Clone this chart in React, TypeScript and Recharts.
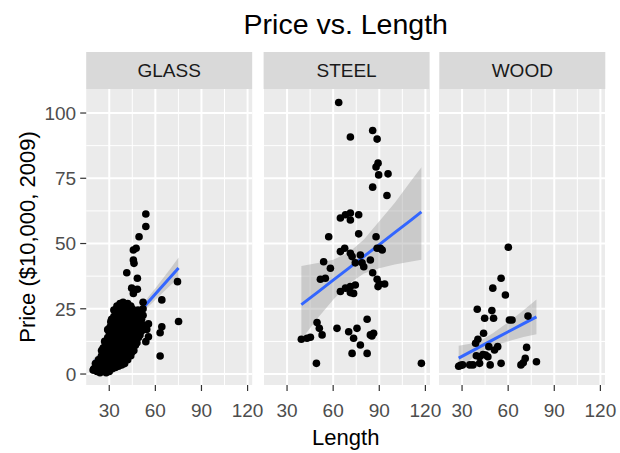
import React from 'react';
import { ComposedChart, Scatter, Line, Area, XAxis, YAxis, CartesianGrid } from 'recharts';

const chartTitle = 'Price vs. Length';
const xTitle = 'Length';
const yTitle = 'Price ($10,000, 2009)';
const categories = ['GLASS', 'STEEL', 'WOOD'];
const xTicks = [30, 60, 90, 120];
const yTicks = [0, 25, 50, 75, 100];
const xMinor = [45, 75, 105];
const yMinor = [12.5, 37.5, 62.5, 87.5];
const X_DOMAIN: [number, number] = [15, 123];
const Y_DOMAIN: [number, number] = [-4.2, 109.2];

const glassPoints: [number, number][] = [
  [19.5, 1.5], [20, 2], [21, 4], [21.5, 2.5],
  [22, 1], [22, 3.5], [23, 5.5], [23, 1.5], [23.5, 3.5],
  [24, 0.5], [24, 3], [24.5, 6], [25, 9], [25, 2], [25.5, 4.5], [25, 7],
  [26, 1.5], [26, 4], [26.5, 7], [26, 10], [27, 12.5], [27, 2.5], [27, 5], [27.5, 8.5], [27.5, 11],
  [28, 0.5], [28, 3], [28.5, 5.5], [28, 8], [28.5, 11], [29, 14], [29, 17],
  [29, 2], [29.5, 4.5], [29, 7], [29.5, 10], [29.5, 12.5], [30, 16],
  [30, 1], [30, 3.5], [30.5, 6], [30, 9], [30.5, 12], [31, 15], [30.5, 18], [31, 20],
  [31, 2.5], [31.5, 5], [31, 8], [31.5, 11], [31.5, 13.5], [32, 17], [31.5, 21],
  [32, 2], [32.5, 4.5], [32, 7], [32.5, 10], [32, 13], [33, 16], [32.5, 19], [33, 22], [33, 24.5],
  [33, 3], [33.5, 6], [33, 9], [33.5, 12], [33.5, 14.5], [34, 18.5], [34, 21], [34, 24],
  [34, 2.5], [34.5, 5], [34, 8], [34.5, 11], [35, 14], [34, 17], [35, 20], [34.5, 23], [35, 26],
  [35, 4], [35.5, 7], [35, 10], [35.5, 12.5], [35.5, 16], [36, 19.5], [35.5, 22], [36, 25.5],
  [36, 3], [36.5, 6], [36, 9], [37, 12], [36, 15], [36.5, 18], [37, 21], [36, 24], [37, 27],
  [37, 4.5], [37.5, 8], [37, 10.5], [37.5, 14], [37.5, 17], [38, 20], [37.5, 23], [38, 26],
  [38, 3.5], [38.5, 7], [38, 10], [39, 13], [38, 16], [38.5, 19], [39, 22], [38, 25], [39, 27.5],
  [39, 5], [39.5, 9], [39, 11.5], [39.5, 15], [40, 18.5], [39.5, 21], [40, 24.5], [39.5, 26.5],
  [40, 4], [40.5, 7.5], [40, 11], [41, 14], [40, 17], [40.5, 20], [41, 23], [40, 26],
  [41, 6], [41.5, 9.5], [41, 12.5], [41.5, 16], [41, 19], [42, 22.5], [41.5, 25],
  [42, 5.5], [42.5, 9], [42, 12], [43, 15], [42, 18], [42.5, 21], [43, 24], [42, 27],
  [43, 7], [43.5, 10.5], [43, 13], [43.5, 17], [43.5, 20], [44, 23.5], [44, 26],
  [44, 7], [44.5, 10], [44, 13], [45, 16], [44, 19], [44.5, 22], [45, 25],
  [45, 8.5], [45.5, 11.5], [45.5, 14.5], [45.5, 18], [45.5, 20.5], [46, 23],
  [46, 9], [46.5, 12], [46, 15], [47, 18], [46, 21], [46.5, 24],
  [47, 11], [47.5, 13.5], [47.5, 16.5], [48, 20], [47.5, 23],
  [48, 12], [48.5, 15], [48, 18], [49, 21],
  [49, 14], [49.5, 17], [50, 20],
  [50, 15], [50.5, 18], [51, 21], [52, 25], [52, 27.5], [51, 16.5], [51.5, 19], [52, 22.5],
  [53.8, 61.3], [53.8, 56.5], [49.4, 52.6], [45.7, 47.5], [47.5, 48.2], [45.7, 43.7], [46.1, 42.4],
  [41.4, 38.8], [48.3, 36.7], [74.4, 35.4], [44.6, 32.9], [48.3, 32.5], [45.7, 30.9], [64.2, 28.4],
  [75.1, 20.1], [55.5, 19.2], [54.4, 17.1], [55.5, 14.3], [53.8, 12.4], [64.2, 18.1], [63.1, 15.8],
  [63.1, 6.9], [48.7, 24.5], [50.8, 22.6],
];

const steelPoints: [number, number][] = [
  [63.6, 104], [71.2, 90.8], [85.7, 93.3], [88.6, 90], [89.2, 80.8], [87.9, 79.3], [89.6, 76.3],
  [95.7, 76.7], [85.7, 71.6], [95, 68.4],
  [64.7, 59.8], [68, 61], [71.2, 61.7], [71.2, 59], [76.6, 61],
  [57.1, 52.6], [76.6, 53.7], [87.9, 52.6],
  [64.7, 46.9], [67.5, 48.2], [71.2, 46.3], [72.3, 45], [90.7, 48.2], [88.6, 48.2], [91.9, 47.5],
  [77.7, 45.6], [79.9, 41.1], [84.2, 43.7],
  [53.8, 43], [58.2, 40.5], [51.7, 36.3], [54.9, 36.7], [74.4, 42.6], [78.8, 42.6],
  [85.7, 38.8], [88.6, 36.3], [90.1, 34.5], [93.5, 34.5], [89.2, 33.5],
  [64.7, 31.6], [68, 32.9], [71.2, 33.5], [74.4, 34.1], [71.2, 31.2], [73.3, 30.9],
  [49.5, 19.7], [51, 17.5], [52.8, 15], [39.3, 13.3], [43, 13.7], [45.2, 14.1],
  [62.5, 17.5],
  [70.1, 16.2], [75.5, 17.5], [73.3, 13.7], [77.7, 11.1], [72.3, 7.9], [82.1, 7.9], [82.1, 21],
  [84.2, 15], [86.3, 15.6], [85.2, 14.6],
  [49.1, 4.1], [117.4, 4.1],
];

const woodPoints: [number, number][] = [
  [60.1, 48.6], [55.4, 36.7], [50, 32.9], [58.2, 30.3], [39.9, 24.8], [49.4, 24.3], [44.7, 21.4],
  [50.5, 21.4], [62.5, 20.7], [72.9, 22.2], [60.8, 20.7], [44, 15.6], [40.3, 13.3], [38.8, 11.8],
  [53.2, 10.5], [47.4, 10.5], [51.1, 9.2], [45.3, 7.3], [41.4, 6.6], [46.8, 6.6], [72, 10.2],
  [71.1, 6], [78.4, 4.7], [68.3, 3.5], [69.8, 4.3], [55.4, 4.1], [48.3, 3.5], [37.1, 3.5],
  [41.4, 4.1], [35, 3.5], [29, 3.3], [30.3, 3.5], [39.3, 7], [43.6, 7.5], [27.8, 3],
];

// smooth fit: [x, fit, lower, upper]
const glassFit: [number, number, number, number][] = [
  [19.5, 4.1, 2.4, 5.8], [30, 10.9, 9.9, 11.9], [40, 17.5, 16.5, 18.5], [50, 24.1, 22.7, 25.5],
  [60, 30.7, 28.5, 32.9], [70, 37.3, 34.1, 40.5], [75.1, 40.6, 36.6, 44.6],
];
const steelFit: [number, number, number, number][] = [
  [39.3, 26.6, 13.2, 41.4], [50, 31.4, 21.5, 42.5], [60, 36, 28.5, 43.8], [70, 40.5, 34.5, 46.5],
  [80, 45.1, 38.5, 51.5], [90, 49.6, 40.5, 58.5], [100, 54.2, 42, 65.5], [110, 58.7, 43, 73.5],
  [117.4, 62.1, 43.8, 79.2],
];
const woodFit: [number, number, number, number][] = [
  [27.8, 6.1, 1.6, 10.8], [40, 9.9, 7.7, 12.1], [50, 13.1, 10.6, 15.6], [60, 16.2, 12.6, 19.8],
  [70, 19.3, 14.2, 24.4], [78.4, 21.9, 15.2, 28.6],
];

const panelData = [
  { name: categories[0], points: glassPoints, fit: glassFit },
  { name: categories[1], points: steelPoints, fit: steelFit },
  { name: categories[2], points: woodPoints, fit: woodFit },
];

const PLOT_LEFTS = [86.2, 263.6, 439.3];
const PLOT_W = 166;
const PLOT_TOP = 89;
const PLOT_H = 296;
const STRIP_TOP = 52;
const FONT = '"Liberation Sans", Arial, Helvetica, sans-serif';

const Dot = (p: any) => <circle cx={p.cx} cy={p.cy} r={3.8} fill="#000000" />;

function Panel({ idx }: { idx: number }) {
  const d = panelData[idx];
  const showY = idx === 0;
  const ml = showY ? 0 : 20;
  const yw = showY ? PLOT_LEFTS[0] : 0;
  const divLeft = showY ? 0 : PLOT_LEFTS[idx] - 20;
  const width = ml + yw + PLOT_W + 20;
  const pts = d.points.map(([x, y]) => ({ x, y }));
  const rows = d.fit.map(([x, y, lo, hi]) => ({ x, y, band: [lo, hi] }));
  const tickStyle = { fill: '#4D4D4D', fontSize: 19 };
  return (
    <div style={{ position: 'absolute', left: divLeft, top: PLOT_TOP }}>
      <ComposedChart width={width} height={PLOT_H + 50} data={rows}
        margin={{ top: 0, right: 20, bottom: 0, left: ml }}>
        <CartesianGrid fill="#EBEBEB" stroke="#FFFFFF" strokeWidth={1} horizontalValues={yMinor} verticalValues={xMinor} />
        <CartesianGrid fill="none" stroke="#FFFFFF" strokeWidth={2} horizontalValues={yTicks} verticalValues={xTicks} />
        <XAxis type="number" dataKey="x" domain={X_DOMAIN} ticks={xTicks} allowDataOverflow interval={0}
          axisLine={false} tickLine={{ stroke: '#333333', strokeWidth: 1.2 }} tickSize={6} tickMargin={13}
          tick={tickStyle} height={50} />
        <YAxis type="number" dataKey="y" domain={Y_DOMAIN} ticks={yTicks} allowDataOverflow interval={0}
          hide={!showY} width={yw} axisLine={false} tickLine={{ stroke: '#333333', strokeWidth: 1.2 }}
          tickSize={6} tickMargin={4} tick={tickStyle} />
        <Scatter data={pts} isAnimationActive={false} shape={Dot} />
        <Area dataKey="band" type="linear" stroke="none" fill="#999999" fillOpacity={0.4} isAnimationActive={false} activeDot={false} />
        <Line dataKey="y" type="linear" stroke="#3366FF" strokeWidth={3} dot={false} activeDot={false} isAnimationActive={false} />
      </ComposedChart>
    </div>
  );
}

export default function App() {
  const centerX = (PLOT_LEFTS[0] + PLOT_LEFTS[2] + PLOT_W) / 2;
  return (
    <div style={{ position: 'absolute', left: 0, top: 0, width: 620, height: 453, background: '#FFFFFF', fontFamily: FONT }}>
      <svg width={620} height={453} style={{ position: 'absolute', left: 0, top: 0 }}>
        <text x={centerX} y={34} textAnchor="middle" fontSize={28.5} fill="#000000" fontFamily={FONT}>{chartTitle}</text>
        {panelData.map((d, i) => (
          <g key={d.name}>
            <rect x={PLOT_LEFTS[i]} y={STRIP_TOP} width={PLOT_W} height={PLOT_TOP - STRIP_TOP} fill="#D9D9D9" />
            <text x={PLOT_LEFTS[i] + PLOT_W / 2} y={77} textAnchor="middle" fontSize={19} fill="#1A1A1A" fontFamily={FONT}>{d.name}</text>
          </g>
        ))}
        <text x={centerX} y={445} textAnchor="middle" fontSize={22} fill="#000000" fontFamily={FONT}>{xTitle}</text>
        <text transform={`translate(35, ${PLOT_TOP + PLOT_H / 2}) rotate(-90)`} textAnchor="middle" fontSize={22} fill="#000000" fontFamily={FONT}>{yTitle}</text>
      </svg>
      {panelData.map((d, i) => <Panel key={d.name} idx={i} />)}
    </div>
  );
}
